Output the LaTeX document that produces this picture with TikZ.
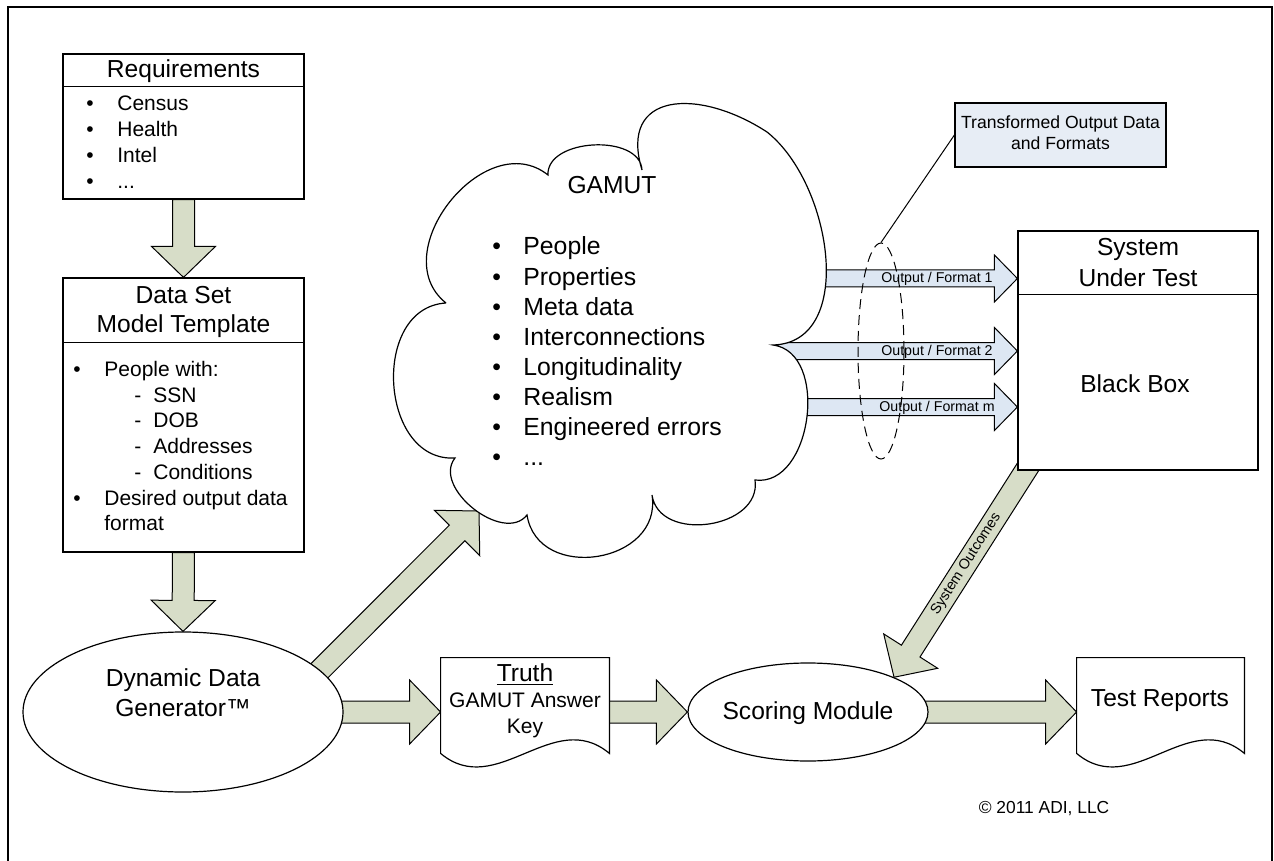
\documentclass[tikz,border=0pt]{standalone}
\usepackage{fontspec}
\setmainfont{Liberation Sans}
\usetikzlibrary{calc}
\usetikzlibrary{shapes.geometric}
\usetikzlibrary{backgrounds}

\definecolor{sage}{RGB}{215,221,200}
\definecolor{paleblue}{RGB}{221,231,243}
\definecolor{noteblue}{RGB}{231,237,245}

\newcommand{\bul}{\makebox[15.5pt][l]{\textbullet}}
\newcommand{\dsh}{\makebox[9.5pt][l]{-}}

% fat arrow: fill, from, to, half shaft, half head, head length
\newcommand{\blockarrow}[6]{%
  \path (#2) coordinate (ba-s) (#3) coordinate (ba-e);
  \path ($(ba-e)!#6!(ba-s)$) coordinate (ba-b);
  \draw[fill=#1,line width=.5pt,line join=miter] ($(ba-s)!#4!90:(ba-e)$) -- ($(ba-b)!#4!90:(ba-e)$) -- ($(ba-b)!#5!90:(ba-e)$) -- (ba-e) -- ($(ba-b)!#5!-90:(ba-e)$) -- ($(ba-b)!#4!-90:(ba-e)$) -- ($(ba-s)!#4!-90:(ba-e)$) -- cycle;}

\tikzset{
  shapebox/.style={draw,line width=.6pt,fill=white,inner sep=0pt},
  oval/.style={draw,ellipse,line width=.6pt,fill=white,inner sep=0pt},
  hdtext/.style={font=\fontsize{12.3}{15}\selectfont,inner sep=0pt,anchor=base},
  itemtext/.style={font=\fontsize{10.5}{13}\selectfont,inner sep=0pt,anchor=base west},
  gamuttext/.style={font=\fontsize{12.4}{15}\selectfont,inner sep=0pt,anchor=base west},
  notetext/.style={font=\fontsize{8.8}{11}\selectfont,inner sep=0pt,anchor=base},
  fmttext/.style={font=\fontsize{7.1}{9}\selectfont,inner sep=0pt,anchor=base east},
}

\begin{document}
\begin{tikzpicture}[x=0.5pt,y=-0.5pt]
\useasboundingbox (0,0) rectangle (1274,861);
\draw[line width=1.3pt] (8,7) rectangle (1272,880);

\coordinate (c1) at (446,303);
\coordinate (c2) at (548,175);
\coordinate (c3) at (642,170);
\coordinate (c4) at (767,132);
\coordinate (c5) at (773,345);
\coordinate (c6) at (755,480);
\coordinate (c7) at (652,495);
\coordinate (c8) at (527,515);
\coordinate (c9) at (455,458);
\draw[fill=white,line width=.6pt] (c1) to[bend left=90,looseness=1.25] (c2) to[bend left=90,looseness=1] (c3)
  to[relative,out=90,in=130,looseness=1.6] (c4) to[relative,out=50,in=90,looseness=1] (c5) to[bend left=90,looseness=1.08] (c6)
  to[bend left=90,looseness=1.21] (c7) to[bend left=90,looseness=1.4] (c8) to[bend left=90,looseness=1.05] (c9)
  to[bend left=90,looseness=1.25] (c1);

\node[hdtext] (gamut-t) at (612,194) {GAMUT};
\node[gamuttext] (gamut-1) at (492,255) {\bul People};
\node[gamuttext] (gamut-2) at (492,285.1) {\bul Properties};
\node[gamuttext] (gamut-3) at (492,315.2) {\bul Meta data};
\node[gamuttext] (gamut-4) at (492,345.3) {\bul Interconnections};
\node[gamuttext] (gamut-5) at (492,375.4) {\bul Longitudinality};
\node[gamuttext] (gamut-6) at (492,405.5) {\bul Realism};
\node[gamuttext] (gamut-7) at (492,435.6) {\bul Engineered errors};
\node[gamuttext] (gamut-8) at (492,465.7) {\bul ...};

\node[shapebox,minimum width=120.5pt,minimum height=72.5pt] (req) at (183.5,126.5) {};
\draw[line width=.6pt] ($(req.north west)+(0,33)$) -- ($(req.north east)+(0,33)$);
\node[hdtext] (req-t) at (183.5,78) {Requirements};
\node[itemtext] (req-1) at (86,110.5) {\bul Census};
\node[itemtext] (req-2) at (86,136.5) {\bul Health};
\node[itemtext] (req-3) at (86,162.5) {\bul Intel};
\node[itemtext] (req-4) at (86,188.5) {\bul ...};

\node[shapebox,minimum width=120.5pt,minimum height=137pt] (dset) at (183.5,415) {};
\draw[line width=.6pt] ($(dset.north west)+(0,65)$) -- ($(dset.north east)+(0,65)$);
\node[hdtext] (dset-t1) at (183.5,304) {Data Set};
\node[hdtext] (dset-t2) at (183.5,332) {Model Template};
\node[itemtext] (dset-1) at (73,376.5) {\bul People with:};
\node[itemtext] (dset-2) at (134,402.2) {\dsh SSN};
\node[itemtext] (dset-3) at (134,427.9) {\dsh DOB};
\node[itemtext] (dset-4) at (134,453.6) {\dsh Addresses};
\node[itemtext] (dset-5) at (134,479.3) {\dsh Conditions};
\node[itemtext] (dset-6) at (73,505) {\bul Desired output data};
\node[itemtext] (dset-7) at (104,530.7) {format};

\node[oval,minimum width=160pt,minimum height=80pt] (ddg) at (183,712) {};
\node[hdtext] (ddg-t1) at (183,686) {Dynamic Data};
\node[hdtext] (ddg-t2) at (183,716) {Generator™};

\node[minimum width=84pt,minimum height=47.5pt,inner sep=0pt] (truth) at (525,705.5) {};
\draw[line width=.6pt,fill=white] (truth.south west) -- (truth.north west) -- (truth.north east) -- (truth.south east)
  .. controls ($(truth.south east)+(-56,-47)$) and ($(truth.south west)+(56,47)$) .. (truth.south west) -- cycle;
\node[hdtext] (truth-t1) at (525,681) {\underline{Truth}};
\node[itemtext,anchor=base] (truth-t2) at (525,707.5) {GAMUT Answer};
\node[itemtext,anchor=base] (truth-t3) at (525,733.5) {Key};

\node[oval,minimum width=120pt,minimum height=49pt] (scoring) at (808,712) {};
\node[hdtext] (scoring-t) at (808,719) {Scoring Module};

\node[minimum width=83.5pt,minimum height=47.5pt,inner sep=0pt] (reports) at (1160.5,705.5) {};
\draw[line width=.6pt,fill=white] (reports.south west) -- (reports.north west) -- (reports.north east) -- (reports.south east)
  .. controls ($(reports.south east)+(-56,-47)$) and ($(reports.south west)+(56,47)$) .. (reports.south west) -- cycle;
\node[hdtext] (reports-t) at (1160,706) {Test Reports};

\node[shapebox,minimum width=120pt,minimum height=119.5pt] (sut) at (1138,350.5) {};
\draw[line width=.6pt] ($(sut.north west)+(0,64)$) -- ($(sut.north east)+(0,64)$);
\node[hdtext] (sut-t1) at (1138,256) {System};
\node[hdtext] (sut-t2) at (1138,286) {Under Test};
\node[hdtext] (sut-t3) at (1135,392) {Black Box};

\node[shapebox,fill=noteblue,minimum width=105.5pt,minimum height=32pt] (tof) at (1060.5,135) {};
\node[notetext] (tof-t1) at (1060.5,129) {Transformed Output Data};
\node[notetext] (tof-t2) at (1060.5,150) {and Formats};

\coordinate (dg) at ($(ddg.17)+(-14,14)$);
\coordinate (tipc) at (479,511);
\coordinate (so) at ($(sut.south west)+(21,-20)$);
\coordinate (o1) at (790,278.5);
\coordinate (o2) at (755,351);
\coordinate (o3) at (785,407);

\begin{pgfonlayer}{background}
\blockarrow{sage}{req.south}{dset.north}{5.5pt}{16pt}{15.5pt}
\blockarrow{sage}{dset.south}{ddg.north}{5.5pt}{16pt}{15.5pt}
\blockarrow{sage}{dg}{tipc}{5.5pt}{16pt}{15.5pt}
\blockarrow{sage}{ddg.center}{ddg.center -| truth.west}{5.5pt}{16pt}{15.5pt}
\blockarrow{sage}{truth.east |- scoring.center}{scoring.west}{5.5pt}{16pt}{15.5pt}
\blockarrow{sage}{scoring.center}{scoring.center -| reports.west}{5.5pt}{16pt}{15.5pt}
\blockarrow{sage}{so}{scoring.22}{5.5pt}{16pt}{15.5pt}
\blockarrow{paleblue}{o1}{o1 -| sut.west}{4.25pt}{11.75pt}{11.5pt}
\blockarrow{paleblue}{o2}{o2 -| sut.west}{4.25pt}{11.75pt}{11.5pt}
\blockarrow{paleblue}{o3}{o3 -| sut.west}{4.25pt}{11.75pt}{11.5pt}
\end{pgfonlayer}

\node[fmttext] (fmt1) at (993,283) {Output / Format 1};
\node[fmttext] (fmt2) at (993,355) {Output / Format 2};
\node[fmttext] (fmtm) at (995,411) {Output / Format m};
\node[font=\fontsize{7.2}{9}\selectfont,inner sep=0pt,rotate=57.5] (outc-t) at ($(so)!0.5!(scoring.22)$) {System Outcomes};

\node[draw,dashed,dash pattern=on 5pt off 3pt,ellipse,minimum width=23pt,minimum height=108pt,inner sep=0pt,line width=.5pt] (outsel) at (881,351) {};
\draw[line width=.5pt] (tof.west) -- (outsel.north);

\node[font=\fontsize{8.7}{10}\selectfont,inner sep=0pt,anchor=base] (copy) at (1044,813) {© 2011 ADI, LLC};
\end{tikzpicture}
\end{document}
